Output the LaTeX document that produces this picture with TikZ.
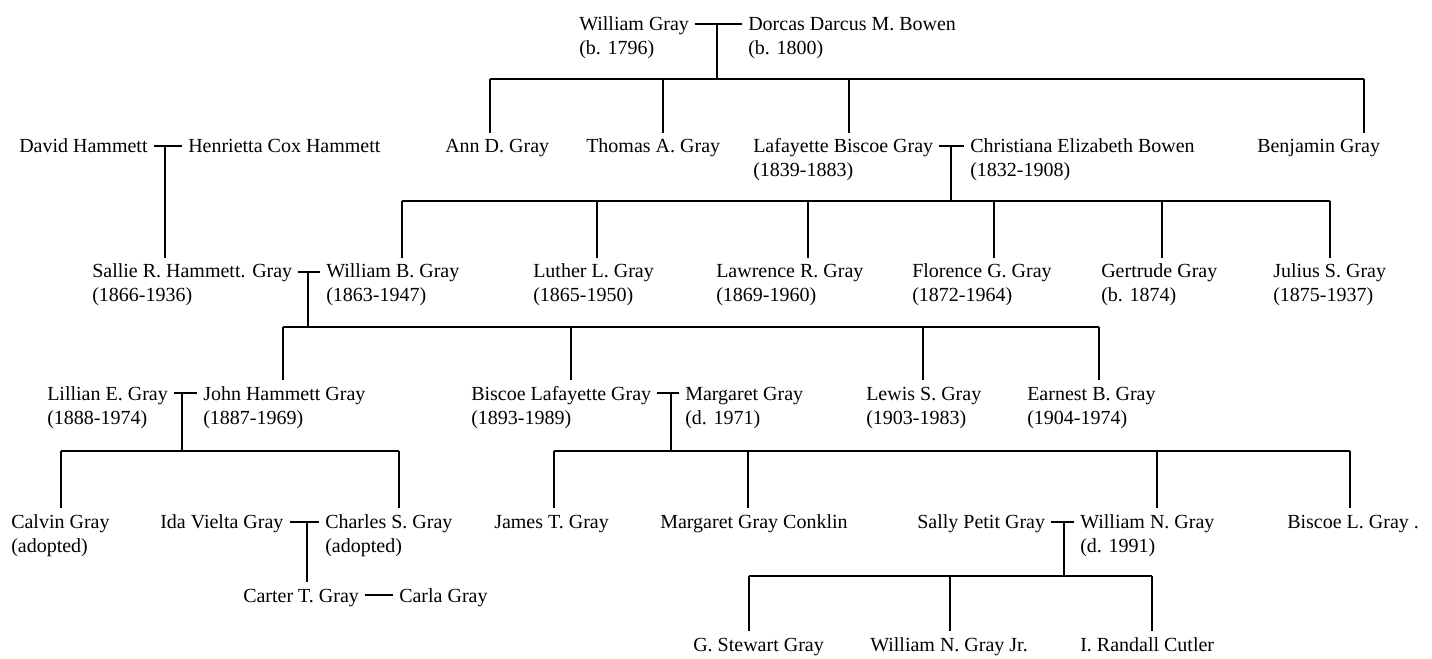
\documentclass[tikz,border=0pt]{standalone}
\usepackage{fontspec}
\setmainfont{Liberation Serif}
\usepackage{tikz}

\begin{document}
\begin{tikzpicture}[x=0.75pt,y=-0.75pt,
    person/.style={anchor=base west, align=left, inner sep=4.5pt,
      font=\fontsize{15pt}{18pt}\selectfont},
    line/.style={draw=black, line width=0.9pt}]
    \useasboundingbox (0,0) rectangle (1432,659);

    \node[person] (wg) at (573,55) {William Gray\\(b. 1796)};
    \node[person] (dmb) at (742,55) {Dorcas Darcus M. Bowen\\(b. 1800)};

    \node[person] (dh) at (13,153) {David Hammett};
    \node[person] (hch) at (182,153) {Henrietta Cox Hammett};
    \node[person] (adg) at (439,153) {Ann D. Gray};
    \node[person] (tag) at (580,153) {Thomas A. Gray};
    \node[person] (lbg) at (747,177) {Lafayette Biscoe Gray\\(1839-1883)};
    \node[person] (ceb) at (964,177) {Christiana Elizabeth Bowen\\(1832-1908)};
    \node[person] (bjg) at (1251,153) {Benjamin Gray};

    \node[person] (srh) at (86,302) {Sallie R. Hammett. Gray\\(1866-1936)};
    \node[person] (wbg) at (320,302) {William B. Gray\\(1863-1947)};
    \node[person] (llg) at (527,302) {Luther L. Gray\\(1865-1950)};
    \node[person] (lrg) at (710,302) {Lawrence R. Gray\\(1869-1960)};
    \node[person] (fgg) at (906,302) {Florence G. Gray\\(1872-1964)};
    \node[person] (gtg) at (1095,302) {Gertrude Gray\\(b. 1874)};
    \node[person] (jsg) at (1267,302) {Julius S. Gray\\(1875-1937)};

    \node[person] (leg) at (41,424) {Lillian E. Gray\\(1888-1974)};
    \node[person] (jhg) at (197,424) {John Hammett Gray\\(1887-1969)};
    \node[person] (blg) at (465,424) {Biscoe Lafayette Gray\\(1893-1989)};
    \node[person] (mg) at (679,424) {Margaret Gray\\(d. 1971)};
    \node[person] (lsg) at (860,424) {Lewis S. Gray\\(1903-1983)};
    \node[person] (ebg) at (1021,424) {Earnest B. Gray\\(1904-1974)};

    \node[person] (cvg) at (5,552) {Calvin Gray\\(adopted)};
    \node[person] (ivg) at (154,528) {Ida Vielta Gray};
    \node[person] (csg) at (319,552) {Charles S. Gray\\(adopted)};
    \node[person] (jtg) at (488,528) {James T. Gray};
    \node[person] (mgc) at (654,528) {Margaret Gray Conklin};
    \node[person] (spg) at (911,528) {Sally Petit Gray};
    \node[person] (wng) at (1074,552) {William N. Gray\\(d. 1991)};
    \node[person] (bsg) at (1281,528) {Biscoe L. Gray .};

    \node[person] (ctg) at (237,602) {Carter T. Gray};
    \node[person] (clg) at (393,602) {Carla Gray};

    \node[person] (gsg) at (687,651) {G. Stewart Gray};
    \node[person] (wnj) at (864,651) {William N. Gray Jr.};
    \node[person] (irc) at (1074,651) {I. Randall Cutler};

    \coordinate (m1) at (717,24);
    \coordinate (m2) at (165,146);
    \coordinate (m3) at (951,146);
    \coordinate (m4) at (308,272);
    \coordinate (m5) at (182,393);
    \coordinate (m6) at (671,393);
    \coordinate (m7) at (307,522);
    \coordinate (m8) at (378,595);
    \coordinate (m9) at (1064,522);

    \draw[line] (wg.east |- m1) -- (dmb.west |- m1);
    \draw[line] (dh.east |- m2) -- (hch.west |- m2);
    \draw[line] (lbg.east |- m3) -- (ceb.west |- m3);
    \draw[line] (srh.east |- m4) -- (wbg.west |- m4);
    \draw[line] (leg.east |- m5) -- (jhg.west |- m5);
    \draw[line] (blg.east |- m6) -- (mg.west |- m6);
    \draw[line] (ivg.east |- m7) -- (csg.west |- m7);
    \draw[line] (ctg.east |- m8) -- (clg.west |- m8);
    \draw[line] (spg.east |- m9) -- (wng.west |- m9);

    \draw[line] (m2) -- (m2 |- srh.north);
    \draw[line] (m7) -- (m7 |- ctg.north);

    \foreach \c/\x in {adg/490,tag/663,lbg/849,bjg/1364}
        \draw[line] (\x,79) coordinate (\c-up) -- (\c-up |- \c.north);
    \draw[line] (adg-up) -- (bjg-up);
    \draw[line] (m1) -- (m1 |- adg-up);

    \foreach \c/\x in {wbg/402,llg/597,lrg/808,fgg/994,gtg/1162,jsg/1330}
        \draw[line] (\x,201) coordinate (\c-up) -- (\c-up |- \c.north);
    \draw[line] (wbg-up) -- (jsg-up);
    \draw[line] (m3) -- (m3 |- wbg-up);

    \foreach \c/\x in {jhg/283,blg/571,lsg/923,ebg/1099}
        \draw[line] (\x,327) coordinate (\c-up) -- (\c-up |- \c.north);
    \draw[line] (jhg-up) -- (ebg-up);
    \draw[line] (m4) -- (m4 |- jhg-up);

    \foreach \c/\x in {cvg/61,csg/399}
        \draw[line] (\x,451) coordinate (\c-up) -- (\c-up |- \c.north);
    \draw[line] (cvg-up) -- (csg-up);
    \draw[line] (m5) -- (m5 |- cvg-up);

    \foreach \c/\x in {jtg/554,mgc/748,wng/1157,bsg/1350}
        \draw[line] (\x,451) coordinate (\c-up) -- (\c-up |- \c.north);
    \draw[line] (jtg-up) -- (bsg-up);
    \draw[line] (m6) -- (m6 |- jtg-up);

    \foreach \c/\x in {gsg/749,wnj/950,irc/1152}
        \draw[line] (\x,576) coordinate (\c-up) -- (\c-up |- \c.north);
    \draw[line] (gsg-up) -- (irc-up);
    \draw[line] (m9) -- (m9 |- gsg-up);
\end{tikzpicture}
\end{document}
